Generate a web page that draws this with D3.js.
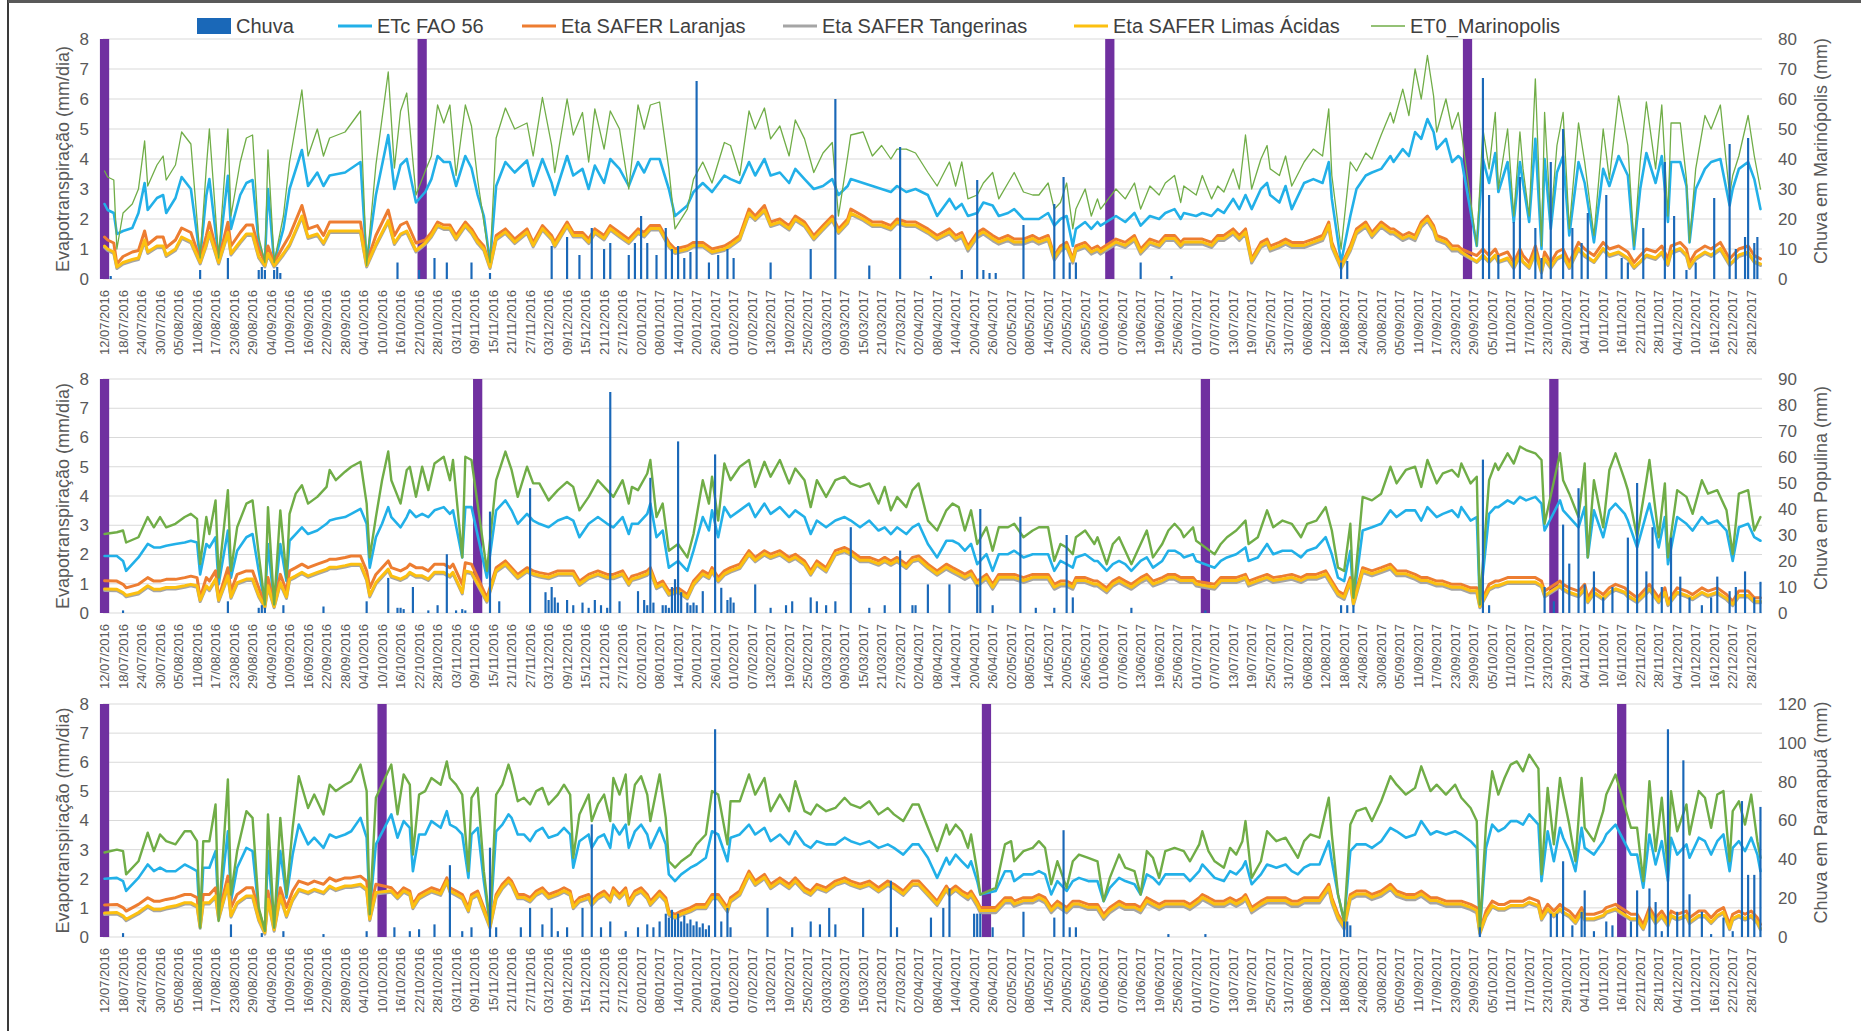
<!DOCTYPE html>
<html>
<head>
<meta charset="utf-8">
<script src="https://cdn.jsdelivr.net/npm/d3@7"></script>
<style>
body { margin: 0; background: #fff; }
svg { display: block; font-family: "Liberation Sans", Arial, sans-serif; }
</style>
</head>
<body>
<svg id="chart" width="1861" height="1031"></svg>
<script>
// ---------- data (day index 0 = 12/07/2016) ----------
var legendNames = ["Chuva", "ETc FAO 56", "Eta SAFER Laranjas", "Eta SAFER Tangerinas", "Eta SAFER Limas Ácidas", "ET0_Marinopolis"];
var leftTitle = "Evapotranspiração (mm/dia)";
var rightTitles = ["Chuva em Marinópolis (mm)", "Chuva em Populina (mm)", "Chuva em Paranapuã (mm)"];
var leftTicks = [0, 1, 2, 3, 4, 5, 6, 7, 8];
var rightTicks1 = [0, 10, 20, 30, 40, 50, 60, 70, 80];
var rightTicks2 = [0, 10, 20, 30, 40, 50, 60, 70, 80, 90];
var rightTicks3 = [0, 20, 40, 60, 80, 100, 120];

// panel 1 - Marinópolis
var p1Marks = [0, 103, 326, 442];
var p1Days = [0,1,3,4,6,9,11,13,14,17,
  19,20,23,25,28,31,33,34,37,40,
  41,44,46,48,50,52,53,55,58,60,
  64,66,69,71,73,78,83,85,88,92,
  94,96,98,101,104,106,108,110,112,114,
  117,119,121,123,125,127,130,133,137,139,
  142,145,146,150,152,155,157,159,162,164,
  167,170,173,175,177,180,183,185,189,191,
  194,197,201,203,206,209,211,214,216,219,
  222,224,227,230,233,236,238,241,242,246,
  249,252,255,257,260,263,267,270,274,276,
  278,280,283,285,288,290,293,295,298,301,
  303,306,308,310,312,314,315,318,320,322,
  323,328,331,334,336,339,342,344,347,349,
  350,354,356,359,361,363,366,368,370,372,
  375,377,378,381,383,385,389,392,395,397,
  398,401,404,406,409,411,414,417,418,421,
  423,425,427,429,431,432,435,437,439,440,
  445,447,449,451,452,455,457,459,460,462,
  464,466,467,469,471,473,475,478,480,483,
  486,488,491,494,496,498,500,503,505,507,
  508,511,513,514,516,519,521,524,527,528,
  530,533,535,537];
var p1ET0 = [3.6,3.4,3.3,1.0,2.2,2.5,3.0,4.6,3.1,3.8,
  4.1,3.3,3.8,4.9,4.5,0.7,3.7,5.0,0.7,5.0,
  2.1,3.9,4.7,4.8,1.4,0.55,4.3,0.55,2.1,3.9,
  6.3,4.1,5.0,4.1,4.7,4.9,5.6,0.45,3.8,6.9,
  3.7,5.6,6.2,2.8,3.6,4.1,5.8,5.2,5.8,3.45,
  5.8,5.1,3.3,1.9,0.55,4.7,5.7,5.0,5.2,4.1,
  6.05,4.45,3.55,6.0,4.8,5.55,3.9,5.67,4.33,5.6,
  5.0,3.0,5.8,5.0,5.8,5.9,3.67,1.67,2.33,3.33,
  3.9,3.2,4.55,4.45,3.45,5.6,5.0,5.7,4.67,5.1,
  4.1,5.3,4.67,3.55,4.2,4.55,2.1,4.1,4.8,4.9,
  4.1,4.45,4.0,4.33,4.33,4.2,3.55,3.1,3.9,3.1,
  3.9,2.67,2.8,3.2,3.55,2.67,3.2,3.55,2.9,2.8,
  2.8,3.2,2.33,2.55,3.2,1.67,2.33,3.0,2.1,2.67,
  2.33,3.0,2.67,3.2,2.33,3.1,2.8,3.2,3.45,2.55,
  3.1,2.8,3.45,2.67,3.1,2.9,3.67,3.0,4.8,3.0,
  4.0,4.45,3.67,3.45,4.1,3.1,3.9,4.33,4.1,5.67,
  3.45,1.0,3.9,3.6,4.2,4.0,4.8,5.55,5.2,6.33,
  5.45,7.0,6.0,7.45,6.1,4.9,6.0,5.0,5.55,4.9,
  1.1,5.0,3.67,5.55,3.0,5.0,2.1,4.9,3.67,2.1,
  6.67,1.1,5.55,1.9,4.45,5.55,1.67,5.2,3.9,1.45,
  5.0,3.33,6.1,4.45,1.1,3.9,5.9,3.67,5.8,2.1,
  5.2,5.2,3.33,1.22,3.67,5.45,5.0,5.8,2.8,3.45,
  4.1,5.45,4.1,3.0];
var p1ETc = [2.5,2.3,2.2,1.5,1.6,1.7,2.2,3.2,2.3,2.7,
  2.8,2.2,2.7,3.4,3.0,0.7,2.78,3.33,0.7,3.44,
  1.67,2.8,3.2,3.3,1.2,0.55,3.0,0.55,1.67,3.0,
  4.3,3.1,3.55,3.1,3.45,3.55,3.9,0.55,2.8,4.8,
  3.0,3.8,4.0,2.55,2.9,3.33,4.1,3.9,3.9,3.1,
  4.1,3.7,2.8,2.1,0.55,3.1,3.9,3.55,3.95,3.1,
  4.0,3.2,2.8,4.1,3.45,3.67,3.0,3.78,3.2,4.0,
  3.67,3.1,3.9,3.55,4.0,4.0,3.0,2.1,2.45,2.9,
  3.2,2.9,3.45,3.33,3.2,3.9,3.45,4.0,3.45,3.55,
  3.2,3.67,3.33,3.0,3.1,3.33,2.8,3.1,3.33,3.2,
  3.1,3.0,2.9,3.1,2.9,3.0,2.8,2.1,2.67,2.33,
  2.5,2.1,2.2,2.55,2.45,2.1,2.2,2.33,2.0,2.0,
  2.0,2.2,1.78,2.0,2.1,1.1,1.67,1.9,1.67,1.9,
  1.78,2.1,1.9,2.2,1.78,2.1,2.0,2.2,2.33,2.0,
  2.2,2.1,2.2,2.1,2.33,2.2,2.67,2.33,2.8,2.33,
  3.0,3.2,2.8,2.55,3.1,2.33,3.2,3.33,3.2,3.9,
  2.67,0.55,2.1,3.0,3.45,3.55,3.67,4.1,3.9,4.33,
  4.1,4.9,4.67,5.33,4.9,4.33,4.67,3.9,4.1,4.0,
  1.1,4.0,3.2,4.2,2.9,3.9,1.9,3.9,3.2,1.9,
  4.67,1.0,4.0,1.67,3.55,4.1,1.45,3.9,3.2,1.22,
  3.67,3.1,4.1,3.45,1.0,3.0,4.2,3.2,4.1,1.9,
  3.9,3.9,3.1,1.22,3.0,3.67,3.9,4.0,2.45,3.0,
  3.67,3.9,3.33,2.33];
var p1Lar = [1.4,1.3,1.2,0.5,0.75,0.9,0.95,1.6,1.15,1.4,
  1.4,1.05,1.3,1.7,1.55,0.65,1.44,1.89,0.65,1.89,
  1.1,1.55,1.8,1.8,1.0,0.55,1.1,0.55,1.1,1.45,
  2.45,1.67,1.78,1.45,1.9,1.9,1.9,0.55,1.45,2.3,
  1.45,1.8,1.9,1.2,1.3,1.55,1.9,1.8,1.8,1.45,
  1.9,1.67,1.33,1.1,0.45,1.45,1.67,1.33,1.67,1.22,
  1.78,1.45,1.22,1.9,1.55,1.55,1.33,1.67,1.45,1.78,
  1.55,1.33,1.67,1.55,1.78,1.78,1.22,1.0,1.1,1.22,
  1.22,1.0,1.1,1.22,1.45,2.33,2.1,2.45,1.9,2.0,
  1.78,2.1,1.9,1.45,1.78,2.1,1.67,2.0,2.33,2.1,
  1.9,1.9,1.78,2.0,1.9,1.9,1.67,1.45,1.67,1.45,
  1.55,1.1,1.55,1.67,1.45,1.33,1.45,1.33,1.33,1.45,
  1.33,1.45,0.78,1.1,1.22,0.67,1.1,1.22,1.0,1.1,
  1.0,1.33,1.22,1.45,1.0,1.33,1.22,1.45,1.45,1.22,
  1.33,1.33,1.33,1.22,1.45,1.45,1.67,1.45,1.67,0.67,
  1.22,1.33,1.1,1.22,1.33,1.22,1.22,1.33,1.45,1.9,
  1.22,0.45,1.1,1.67,1.9,1.55,1.9,1.67,1.67,1.45,
  1.55,1.45,1.9,2.1,1.78,1.45,1.33,1.1,1.1,1.0,
  0.78,1.0,0.78,1.0,0.78,0.9,0.55,1.0,0.78,0.55,
  1.1,0.33,0.9,0.55,0.9,1.0,0.55,1.22,1.0,0.78,
  1.22,1.0,1.1,0.9,0.55,0.78,1.0,0.9,1.1,0.67,
  1.1,1.22,1.0,0.55,0.9,1.1,1.0,1.22,0.67,0.78,
  1.0,1.1,0.78,0.67];
var p1Tan = [1.05,0.95,0.85,0.35,0.5,0.6,0.65,1.25,0.85,1.05,
  1.05,0.75,0.95,1.35,1.2,0.5,1.1,1.5,0.5,1.5,
  0.8,1.2,1.45,1.45,0.7,0.4,0.8,0.4,0.8,1.1,
  2.05,1.35,1.45,1.15,1.55,1.55,1.55,0.4,1.1,1.9,
  1.15,1.45,1.55,0.9,1.15,1.4,1.75,1.65,1.65,1.3,
  1.75,1.52,1.18,0.95,0.35,1.3,1.52,1.18,1.52,1.07,
  1.63,1.3,1.07,1.75,1.4,1.4,1.18,1.52,1.3,1.63,
  1.4,1.18,1.52,1.4,1.63,1.63,1.07,0.85,0.95,1.07,
  1.07,0.85,0.95,1.07,1.3,2.15,1.95,2.25,1.75,1.85,
  1.63,1.95,1.75,1.3,1.63,1.95,1.52,1.85,2.15,1.95,
  1.75,1.75,1.63,1.85,1.75,1.75,1.52,1.3,1.5,1.28,
  1.38,0.93,1.38,1.5,1.28,1.16,1.28,1.16,1.16,1.28,
  1.16,1.28,0.63,0.93,1.05,0.53,0.93,1.05,0.83,0.93,
  0.83,1.16,1.05,1.28,0.83,1.16,1.05,1.28,1.28,1.05,
  1.16,1.16,1.16,1.05,1.28,1.28,1.5,1.28,1.5,0.53,
  1.05,1.16,0.93,1.05,1.16,1.05,1.05,1.16,1.28,1.73,
  1.05,0.35,0.93,1.5,1.73,1.38,1.73,1.5,1.5,1.28,
  1.38,1.28,1.73,1.93,1.6,1.28,1.16,0.93,0.93,0.85,
  0.55,0.75,0.55,0.75,0.55,0.65,0.35,0.75,0.55,0.35,
  0.85,0.2,0.65,0.35,0.65,0.75,0.35,0.97,0.75,0.55,
  0.97,0.75,0.85,0.65,0.35,0.55,0.75,0.65,0.85,0.45,
  0.85,0.97,0.75,0.35,0.65,0.85,0.75,0.97,0.45,0.55,
  0.75,0.85,0.55,0.45];
var p1Lim = [1.1,1.0,0.9,0.4,0.55,0.65,0.7,1.3,0.9,1.1,
  1.1,0.8,1.0,1.4,1.25,0.55,1.15,1.55,0.55,1.55,
  0.85,1.25,1.5,1.5,0.75,0.45,0.85,0.45,0.85,1.15,
  2.1,1.4,1.5,1.2,1.6,1.6,1.6,0.45,1.15,1.95,
  1.2,1.5,1.6,0.95,1.2,1.45,1.8,1.7,1.7,1.35,
  1.8,1.57,1.23,1.0,0.4,1.35,1.57,1.23,1.57,1.12,
  1.68,1.35,1.12,1.8,1.45,1.45,1.23,1.57,1.35,1.68,
  1.45,1.23,1.57,1.45,1.68,1.68,1.12,0.9,1.0,1.12,
  1.12,0.9,1.0,1.12,1.35,2.2,2.0,2.3,1.8,1.9,
  1.68,2.0,1.8,1.35,1.68,2.0,1.57,1.9,2.2,2.0,
  1.8,1.8,1.68,1.9,1.8,1.8,1.57,1.35,1.57,1.35,
  1.45,1.0,1.45,1.57,1.35,1.23,1.35,1.23,1.23,1.35,
  1.23,1.35,0.7,1.0,1.12,0.6,1.0,1.12,0.9,1.0,
  0.9,1.23,1.12,1.35,0.9,1.23,1.12,1.35,1.35,1.12,
  1.23,1.23,1.23,1.12,1.35,1.35,1.57,1.35,1.57,0.6,
  1.12,1.23,1.0,1.12,1.23,1.12,1.12,1.23,1.35,1.8,
  1.12,0.4,1.0,1.57,1.8,1.45,1.8,1.57,1.57,1.35,
  1.45,1.35,1.8,2.0,1.68,1.35,1.23,1.0,1.0,0.9,
  0.58,0.8,0.58,0.8,0.58,0.7,0.4,0.8,0.58,0.4,
  0.9,0.25,0.7,0.4,0.7,0.8,0.4,1.02,0.8,0.58,
  1.02,0.8,0.9,0.7,0.4,0.58,0.8,0.7,0.9,0.5,
  0.9,1.02,0.8,0.4,0.7,0.9,0.8,1.02,0.5,0.58,
  0.8,0.9,0.58,0.5];
var p1RainDays = [2,31,40,50,51,52,55,56,57,95,
  102,107,111,119,125,145,150,154,158,162,
  164,170,172,174,176,179,182,184,186,188,
  190,192,196,199,202,204,216,229,237,248,
  258,268,278,283,285,287,289,298,308,311,
  313,315,336,346,401,403,447,449,452,457,
  459,464,466,469,473,476,479,481,487,492,
  494,499,506,509,513,516,522,527,529,532,
  533,535,536];
var p1Rain = [1,3,7,3,4,3,3,4,2,5.5,
  3,7,5.5,5.5,2,11,14,8,17,10,
  12,8,12,21,12,8,17,10,11,7,
  9,66,5.5,8,10,7,5.5,10,60,4.5,
  44,1,3,33,3,2,2,18,25,34,
  5.5,5.5,5.5,1,5.5,6,67,28,8,19,
  34,17,7,39,50,17,12,22,28,7,
  5.5,17,39,21,3,5.5,27,45,10,14,
  47,12,14];

// panel 2 - Populina
var p2Marks = [0, 121, 357, 470];
var p2Days = [0,4,6,7,11,14,16,18,20,23,
  26,28,30,31,33,34,36,37,40,41,
  43,46,48,50,52,53,55,57,59,60,
  62,64,66,69,72,73,75,78,80,83,
  85,86,88,90,92,93,96,98,99,101,
  103,105,107,110,112,113,116,117,119,124,
  127,130,132,134,137,139,141,144,147,150,
  152,154,157,160,163,165,168,170,171,173,
  176,177,179,181,183,186,189,191,194,196,
  197,199,201,203,206,209,211,214,216,219,
  222,224,227,229,231,234,237,240,242,245,
  248,251,253,255,257,260,262,264,267,270,
  273,275,277,279,281,283,286,288,290,293,
  295,298,301,303,306,308,310,312,314,315,
  318,321,322,325,327,329,331,333,336,338,
  340,343,345,347,349,350,353,354,360,362,
  364,367,370,371,374,377,379,382,385,388,
  390,393,396,398,400,402,404,405,408,411,
  414,417,419,422,425,427,429,432,434,437,
  439,440,443,445,446,449,451,452,455,457,
  459,461,464,466,467,472,473,475,478,480,
  481,483,486,488,490,493,494,497,500,501,
  504,506,507,510,513,515,518,520,523,526,
  528,530,533,535,537];
var p2ET0 = [2.7,2.76,2.82,2.41,2.59,3.28,2.93,3.28,2.93,3.05,
  3.28,3.39,3.22,1.67,3.28,2.7,3.85,1.21,4.2,1.44,
  2.93,3.74,3.85,2.01,0.29,3.62,0.29,3.51,1.21,3.39,
  4.08,4.37,3.74,3.97,4.31,4.89,4.54,4.83,5.0,5.17,
  3.74,1.9,3.28,4.54,5.52,4.54,3.74,4.89,5.0,3.97,
  5.0,4.2,5.11,5.34,4.54,5.23,1.9,5.34,5.23,1.44,
  4.54,5.52,4.89,3.97,5.0,4.43,4.43,3.85,4.2,4.48,
  4.31,3.51,3.97,4.54,4.2,3.97,4.54,3.74,4.31,4.2,
  4.77,5.23,3.28,3.74,2.13,2.36,1.9,2.7,4.54,3.74,
  4.66,3.16,5.11,4.54,5.0,5.23,4.31,5.17,4.66,5.23,
  4.43,4.94,4.54,3.62,4.54,3.97,4.54,4.66,4.43,4.31,
  4.43,3.74,4.31,3.51,3.97,3.62,4.2,4.43,3.16,2.82,
  3.51,3.74,3.62,2.82,3.51,2.36,2.93,2.13,2.93,2.93,
  3.05,2.59,2.82,2.93,2.93,1.78,2.36,2.24,2.01,2.59,
  2.82,2.36,2.59,1.67,2.36,2.59,2.13,1.67,2.36,2.82,
  1.9,2.36,2.82,3.05,2.82,2.59,2.93,2.47,2.01,2.36,
  2.59,2.82,3.16,2.36,2.59,3.51,2.93,3.16,3.05,2.59,
  3.05,3.16,3.62,2.82,1.55,1.44,3.05,0.52,3.97,3.85,
  4.08,5.0,4.43,4.89,5.0,4.31,5.23,4.43,4.77,4.89,
  4.66,5.11,4.43,4.66,0.29,4.54,5.11,4.89,5.46,5.11,
  5.69,5.57,5.46,5.23,3.05,5.46,4.54,4.08,3.28,5.11,
  1.9,4.54,2.93,4.89,5.46,4.54,4.2,2.59,4.54,5.23,
  2.59,4.43,1.9,4.2,3.97,3.39,4.54,4.08,4.2,3.51,
  2.01,4.08,4.2,2.82,3.28];
var p2ETc = [1.95,1.95,1.78,1.44,1.9,2.36,2.24,2.24,2.3,2.36,
  2.41,2.47,2.41,1.32,2.36,2.24,2.59,0.98,2.82,1.21,
  2.13,2.59,2.7,1.44,0.29,2.36,0.29,2.36,1.09,2.47,
  2.7,2.93,2.7,2.82,3.05,3.16,3.22,3.28,3.39,3.56,
  3.05,1.55,2.59,3.05,3.62,3.28,2.93,3.28,3.51,3.28,
  3.39,3.28,3.51,3.62,3.39,3.51,1.9,3.62,3.62,1.21,
  3.51,3.85,3.51,3.05,3.39,3.16,3.05,2.93,3.16,3.28,
  3.16,2.59,3.05,3.28,3.05,2.93,3.28,2.7,3.05,3.05,
  3.39,3.74,2.59,2.82,1.55,1.78,1.44,2.13,3.28,2.82,
  3.51,2.59,3.62,3.28,3.51,3.74,3.28,3.74,3.39,3.62,
  3.28,3.51,3.28,2.7,3.16,2.93,3.16,3.28,3.16,2.93,
  3.16,2.82,2.93,2.7,2.93,2.7,2.93,3.05,2.36,1.9,
  2.47,2.47,2.36,2.13,2.36,1.67,2.01,1.44,2.01,2.01,
  2.13,1.9,2.01,2.01,2.01,1.44,1.78,1.67,1.55,1.9,
  2.01,1.78,1.78,1.44,1.67,1.78,1.67,1.44,1.78,1.9,
  1.55,1.78,2.13,2.13,2.01,1.9,2.01,1.78,1.55,1.78,
  1.9,2.01,2.24,1.78,1.9,2.36,2.01,2.13,2.13,1.9,
  2.13,2.24,2.59,2.01,1.21,1.09,2.13,0.4,2.82,2.93,
  3.05,3.51,3.28,3.51,3.51,3.16,3.62,3.28,3.39,3.51,
  3.28,3.62,3.16,3.28,0.29,3.39,3.62,3.62,3.85,3.74,
  3.97,3.85,3.97,3.74,2.82,3.85,3.51,3.28,2.93,3.62,
  1.9,3.51,2.59,3.51,3.74,3.39,3.16,2.24,3.39,3.74,
  2.24,3.28,1.67,3.28,3.05,2.82,3.28,3.05,3.16,2.82,
  1.78,2.93,3.05,2.59,2.47];
var p2Lar = [1.1,1.09,0.98,0.86,0.98,1.21,1.09,1.09,1.15,1.15,
  1.21,1.26,1.21,0.52,1.21,1.09,1.44,0.52,1.55,0.75,
  1.32,1.44,1.44,0.86,0.29,1.21,0.29,1.32,0.75,1.44,
  1.55,1.67,1.55,1.67,1.78,1.84,1.84,1.9,1.95,1.95,
  1.44,0.86,1.32,1.55,1.78,1.55,1.44,1.55,1.67,1.55,
  1.55,1.44,1.67,1.67,1.55,1.67,0.98,1.72,1.67,0.52,
  1.55,1.78,1.55,1.32,1.55,1.44,1.38,1.32,1.44,1.44,
  1.44,1.09,1.32,1.44,1.32,1.32,1.44,1.09,1.26,1.32,
  1.44,1.55,0.98,1.09,0.75,0.86,0.63,1.09,1.44,1.32,
  1.55,1.21,1.44,1.55,1.67,2.13,1.9,2.13,2.01,2.13,
  1.9,2.01,1.78,1.44,1.78,1.55,2.13,2.24,2.13,1.9,
  1.9,1.78,1.9,1.78,1.9,1.67,1.9,1.95,1.67,1.44,
  1.67,1.55,1.44,1.32,1.44,1.09,1.32,0.98,1.32,1.32,
  1.32,1.21,1.32,1.32,1.32,0.98,1.09,1.09,0.98,1.21,
  1.21,1.09,1.09,0.86,1.09,1.21,1.09,0.98,1.21,1.32,
  1.09,1.21,1.32,1.32,1.21,1.21,1.21,1.09,0.98,1.21,
  1.21,1.21,1.32,1.09,1.21,1.32,1.21,1.26,1.32,1.21,
  1.32,1.32,1.44,1.09,0.75,0.63,1.21,0.4,1.55,1.44,
  1.55,1.67,1.44,1.44,1.32,1.21,1.21,1.09,1.09,0.98,
  0.98,0.98,0.86,0.86,0.29,0.98,1.09,1.09,1.21,1.21,
  1.21,1.21,1.21,1.09,0.75,1.09,0.98,0.86,0.75,0.98,
  0.52,0.86,0.63,0.86,0.98,0.86,0.75,0.52,0.86,0.98,
  0.52,0.86,0.4,0.86,0.75,0.63,0.86,0.75,0.86,0.63,
  0.4,0.75,0.75,0.52,0.52];
var p2Tan = [0.77,0.76,0.65,0.55,0.65,0.88,0.76,0.76,0.82,0.82,
  0.88,0.93,0.88,0.39,0.88,0.76,1.11,0.39,1.22,0.5,
  0.99,1.11,1.11,0.55,0.18,0.88,0.18,0.99,0.5,1.11,
  1.22,1.34,1.22,1.34,1.45,1.51,1.51,1.57,1.62,1.62,
  1.11,0.55,0.99,1.22,1.45,1.22,1.11,1.22,1.34,1.22,
  1.22,1.11,1.34,1.34,1.22,1.34,0.65,1.39,1.34,0.37,
  1.4,1.63,1.4,1.17,1.4,1.29,1.23,1.17,1.29,1.29,
  1.29,0.94,1.17,1.29,1.17,1.17,1.29,0.94,1.11,1.17,
  1.29,1.4,0.83,0.94,0.6,0.71,0.48,0.94,1.29,1.17,
  1.4,1.06,1.29,1.4,1.52,1.98,1.75,1.98,1.86,1.98,
  1.75,1.86,1.63,1.29,1.63,1.4,1.98,2.09,1.98,1.75,
  1.75,1.63,1.75,1.63,1.75,1.52,1.75,1.8,1.52,1.29,
  1.5,1.38,1.27,1.15,1.27,0.92,1.15,0.81,1.15,1.15,
  1.15,1.04,1.15,1.15,1.15,0.81,0.92,0.92,0.81,1.04,
  1.04,0.92,0.92,0.69,0.92,1.04,0.92,0.81,1.04,1.15,
  0.92,1.04,1.15,1.15,1.04,1.04,1.04,0.92,0.81,1.04,
  1.04,1.04,1.15,0.92,1.04,1.15,1.04,1.09,1.15,1.04,
  1.15,1.15,1.27,0.92,0.58,0.46,1.04,0.26,1.38,1.27,
  1.38,1.5,1.27,1.27,1.15,1.04,1.04,0.92,0.92,0.81,
  0.81,0.81,0.69,0.69,0.18,0.78,0.89,0.89,1.01,1.01,
  1.01,1.01,1.01,0.89,0.55,0.89,0.78,0.66,0.55,0.78,
  0.35,0.66,0.45,0.66,0.78,0.66,0.55,0.35,0.66,0.78,
  0.35,0.66,0.25,0.66,0.55,0.45,0.66,0.55,0.66,0.45,
  0.25,0.55,0.55,0.35,0.35];
var p2Lim = [0.82,0.81,0.7,0.6,0.7,0.93,0.81,0.81,0.87,0.87,
  0.93,0.98,0.93,0.44,0.93,0.81,1.16,0.44,1.27,0.55,
  1.04,1.16,1.16,0.6,0.22,0.93,0.22,1.04,0.55,1.16,
  1.27,1.39,1.27,1.39,1.5,1.56,1.56,1.62,1.67,1.67,
  1.16,0.6,1.04,1.27,1.5,1.27,1.16,1.27,1.39,1.27,
  1.27,1.16,1.39,1.39,1.27,1.39,0.7,1.44,1.39,0.42,
  1.45,1.68,1.45,1.22,1.45,1.34,1.28,1.22,1.34,1.34,
  1.34,0.99,1.22,1.34,1.22,1.22,1.34,0.99,1.16,1.22,
  1.34,1.45,0.88,0.99,0.65,0.76,0.53,0.99,1.34,1.22,
  1.45,1.11,1.34,1.45,1.57,2.03,1.8,2.03,1.91,2.03,
  1.8,1.91,1.68,1.34,1.68,1.45,2.03,2.14,2.03,1.8,
  1.8,1.68,1.8,1.68,1.8,1.57,1.8,1.85,1.57,1.34,
  1.57,1.45,1.34,1.22,1.34,0.99,1.22,0.88,1.22,1.22,
  1.22,1.11,1.22,1.22,1.22,0.88,0.99,0.99,0.88,1.11,
  1.11,0.99,0.99,0.76,0.99,1.11,0.99,0.88,1.11,1.22,
  0.99,1.11,1.22,1.22,1.11,1.11,1.11,0.99,0.88,1.11,
  1.11,1.11,1.22,0.99,1.11,1.22,1.11,1.16,1.22,1.11,
  1.22,1.22,1.34,0.99,0.65,0.53,1.11,0.32,1.45,1.34,
  1.45,1.57,1.34,1.34,1.22,1.11,1.11,0.99,0.99,0.88,
  0.88,0.88,0.76,0.76,0.22,0.83,0.94,0.94,1.06,1.06,
  1.06,1.06,1.06,0.94,0.6,0.94,0.83,0.71,0.6,0.83,
  0.4,0.71,0.5,0.71,0.83,0.71,0.6,0.4,0.71,0.83,
  0.4,0.71,0.3,0.71,0.6,0.5,0.71,0.6,0.71,0.5,
  0.3,0.6,0.6,0.4,0.4];
var p2RainDays = [6,40,50,51,52,58,71,85,92,95,
  96,97,100,105,108,111,114,116,117,125,
  128,138,143,144,145,146,147,150,152,155,
  157,159,161,163,164,167,173,175,176,177,
  178,181,182,183,184,185,186,187,189,190,
  191,192,194,198,200,202,203,204,211,216,
  221,223,229,231,234,237,242,248,253,258,
  262,263,267,274,283,284,288,297,302,308,
  312,314,333,357,401,403,405,447,449,467,
  470,473,475,478,480,483,486,489,494,497,
  500,502,505,508,511,514,518,521,523,527,
  529,532,535,537];
var p2Rain = [1,4.5,2,3,2,3,2.5,4.5,13.5,2,
  2,1.5,10,1,3,22.6,1,1.5,1,39,
  4.5,48,8,5,10,6,4,5,3,4,
  2,5,3,2,85,4.5,8.4,5,3,52,
  4,3,3,2,10,13,66,8,4,3,
  4,3,8.4,61,9.7,5,6,4,11,2,
  3,4.5,6,4.5,3,4.5,33,2,3,24,
  3,3,11,11,11,40,3,37,2,2,
  30,6,2,1,3,3,3,59,3,10,
  4.5,34,19,48,11,16,6,10,29,50,
  16,33,10,29,14,6,3,6,14,8.4,
  10,16,6,12];

// panel 3 - Paranapuã
var p3Marks = [0, 90, 286, 492];
var p3Days = [0,4,6,7,11,14,16,18,20,23,
  26,28,30,31,32,34,36,37,40,41,
  43,46,48,50,52,53,55,57,59,61,
  63,66,68,71,73,75,78,80,83,85,
  86,88,93,95,97,99,100,102,104,106,
  109,111,112,114,116,118,119,121,123,125,
  127,129,131,132,134,136,138,140,142,144,
  147,149,151,152,154,157,158,160,162,164,
  165,167,169,170,172,174,176,177,180,182,
  183,185,187,190,192,195,197,199,202,203,
  206,209,211,214,216,219,222,224,227,229,
  231,234,237,240,242,245,248,251,254,256,
  259,262,264,267,270,273,274,276,278,280,
  281,283,284,289,292,294,295,298,301,303,
  305,307,309,312,314,316,319,322,324,326,
  329,331,334,336,338,340,342,344,347,350,
  352,355,356,358,360,363,365,367,369,370,
  372,375,377,380,383,385,387,389,391,394,
  397,398,400,402,404,406,409,411,414,417,
  419,422,425,427,430,432,435,438,440,443,
  445,446,448,450,452,454,456,458,460,462,
  465,466,468,470,472,473,475,477,479,480,
  483,486,487,490,495,497,499,501,503,505,
  507,508,510,513,514,517,519,521,523,525,
  527,528,530,532,534,536,537];
var p3ET0 = [2.9,3.0,2.95,2.15,2.6,3.58,2.95,3.52,3.29,3.18,
  3.63,3.63,3.29,0.32,3.29,3.29,4.55,0.55,5.41,1.46,
  2.95,4.32,4.09,1.01,0.21,4.21,0.32,4.09,1.46,3.75,
  5.52,4.43,4.89,4.21,5.23,5.01,5.23,5.35,5.92,5.01,
  0.78,4.78,5.92,4.21,5.58,5.23,2.83,4.89,5.01,5.46,
  5.23,6.03,5.46,5.23,4.89,2.26,4.78,5.12,2.26,0.43,
  4.89,5.23,5.92,5.58,4.66,4.78,4.55,5.01,5.12,4.55,
  4.89,5.23,4.89,2.72,4.21,4.89,3.98,4.55,4.89,3.98,
  5.46,4.89,5.58,3.86,5.23,5.52,4.89,3.98,5.58,4.09,
  2.6,2.38,2.6,2.83,3.18,3.52,5.01,4.89,3.18,4.66,
  4.66,5.58,4.89,5.46,4.32,4.89,4.32,5.35,4.32,4.21,
  4.55,4.32,4.43,4.78,4.55,4.43,4.66,4.21,4.43,4.21,
  3.98,4.55,4.55,3.75,2.95,3.86,3.52,3.86,3.63,3.06,
  3.52,2.26,1.46,1.69,3.18,3.29,2.6,2.95,3.06,3.29,
  3.06,1.81,2.6,1.69,2.6,2.83,2.72,2.6,1.23,2.03,
  2.83,2.38,2.26,1.46,2.95,2.72,2.03,2.95,3.06,2.95,
  2.6,3.18,3.63,2.95,2.6,2.38,3.06,2.83,3.29,3.98,
  2.03,2.6,3.63,3.29,3.41,3.06,2.72,3.29,3.52,3.41,
  4.78,3.52,1.46,0.55,3.86,4.32,4.43,3.98,4.66,5.52,
  5.23,4.89,5.12,5.86,5.01,5.23,4.89,5.23,4.78,4.43,
  3.98,0.21,3.86,5.69,4.89,5.46,5.92,6.03,5.69,6.26,
  5.78,2.15,5.12,3.18,5.46,4.89,3.86,2.6,5.46,3.75,
  3.29,4.32,4.89,5.58,3.75,3.75,1.92,5.35,2.95,4.78,
  2.26,5.01,3.63,4.55,3.52,5.01,4.78,3.75,4.89,5.01,
  2.6,4.32,4.66,3.86,4.89,3.29,2.72];
var p3ETc = [2.0,2.03,1.92,1.58,2.03,2.49,2.26,2.38,2.26,2.26,
  2.49,2.38,2.26,0.43,2.38,2.38,2.95,0.78,3.63,1.23,
  2.38,3.06,2.95,0.89,0.21,2.95,0.32,2.95,1.35,2.83,
  3.86,3.18,3.41,3.06,3.52,3.41,3.52,3.63,4.09,3.41,
  0.89,3.18,4.21,3.41,3.98,3.75,2.26,3.52,3.52,3.98,
  3.75,4.32,3.86,3.75,3.52,2.03,3.52,3.75,1.92,0.43,
  3.63,3.86,4.21,4.09,3.52,3.52,3.29,3.63,3.75,3.41,
  3.52,3.75,3.52,2.38,3.29,3.52,3.06,3.41,3.52,3.06,
  3.86,3.52,3.86,3.06,3.63,3.86,3.52,3.06,3.75,3.18,
  2.15,1.92,2.15,2.38,2.49,2.72,3.63,3.52,2.6,3.41,
  3.52,3.86,3.52,3.75,3.29,3.52,3.18,3.63,3.18,3.06,
  3.29,3.18,3.18,3.41,3.29,3.18,3.29,3.06,3.18,3.06,
  2.83,3.18,3.18,2.72,2.03,2.72,2.49,2.83,2.6,2.38,
  2.6,1.92,1.46,1.58,2.26,2.26,1.92,2.15,2.15,2.26,
  2.15,1.46,1.92,1.58,1.92,2.03,1.92,1.92,1.23,1.69,
  2.03,1.92,1.81,1.46,2.15,2.03,1.81,2.15,2.15,2.15,
  1.92,2.26,2.49,2.26,2.03,1.92,2.26,2.15,2.38,2.6,
  1.81,2.15,2.49,2.38,2.49,2.26,2.15,2.38,2.49,2.49,
  3.29,2.6,1.46,0.55,2.95,3.18,3.18,3.06,3.29,3.75,
  3.63,3.41,3.52,3.98,3.52,3.63,3.52,3.63,3.52,3.29,
  3.06,0.21,3.06,3.86,3.63,3.75,3.98,3.98,3.86,4.21,
  3.86,1.92,3.63,2.6,3.75,3.41,2.95,2.26,3.75,3.06,
  2.83,3.29,3.52,3.86,2.83,2.83,1.69,3.52,2.49,3.29,
  1.92,3.41,2.83,3.18,2.72,3.41,3.29,2.83,3.29,3.52,
  2.26,3.06,3.29,2.95,3.41,2.83,2.26];
var p3Lar = [1.1,1.12,1.01,0.89,1.12,1.35,1.23,1.23,1.29,1.35,
  1.46,1.46,1.35,0.43,1.46,1.46,1.69,0.78,2.09,1.01,
  1.46,1.69,1.69,0.89,0.21,1.58,0.32,1.69,1.01,1.58,
  1.92,1.81,1.92,1.81,2.03,1.92,2.03,2.03,2.09,1.92,
  0.89,1.81,1.69,1.46,1.69,1.58,1.12,1.46,1.58,1.69,
  1.58,2.03,1.69,1.58,1.46,1.01,1.46,1.58,1.01,0.43,
  1.46,1.81,2.03,1.92,1.46,1.46,1.35,1.58,1.69,1.46,
  1.58,1.69,1.58,1.12,1.35,1.46,1.23,1.46,1.58,1.35,
  1.69,1.46,1.69,1.23,1.58,1.69,1.46,1.23,1.58,1.35,
  0.89,0.78,0.89,1.01,1.12,1.12,1.46,1.46,1.01,1.35,
  1.58,2.26,1.92,2.15,1.81,2.03,1.81,2.03,1.69,1.58,
  1.81,1.69,1.92,2.03,1.92,1.81,1.92,1.69,1.92,1.81,
  1.58,1.92,1.92,1.58,1.23,1.75,1.58,1.75,1.58,1.46,
  1.58,1.23,1.01,1.01,1.35,1.35,1.23,1.35,1.35,1.46,
  1.35,1.01,1.23,1.01,1.23,1.23,1.12,1.12,0.78,1.01,
  1.23,1.12,1.12,1.01,1.35,1.23,1.12,1.23,1.23,1.23,
  1.12,1.35,1.46,1.35,1.23,1.23,1.35,1.23,1.35,1.46,
  1.01,1.23,1.35,1.35,1.35,1.23,1.23,1.35,1.35,1.35,
  1.81,1.35,0.78,0.43,1.46,1.58,1.58,1.46,1.58,1.81,
  1.58,1.46,1.46,1.58,1.35,1.35,1.23,1.23,1.23,1.12,
  1.01,0.21,0.89,1.23,1.12,1.12,1.23,1.23,1.23,1.35,
  1.23,0.78,1.12,0.89,1.12,1.01,0.89,0.66,1.01,0.78,
  0.78,0.89,1.01,1.12,0.78,0.78,0.43,1.01,0.66,0.89,
  0.55,0.89,0.78,0.89,0.66,0.89,0.89,0.66,0.89,1.01,
  0.43,0.78,0.89,0.78,0.89,0.66,0.43];
var p3Tan = [0.77,0.79,0.68,0.56,0.79,1.02,0.9,0.9,0.96,1.02,
  1.13,1.13,1.02,0.3,1.13,1.13,1.36,0.6,1.76,0.68,
  1.13,1.36,1.36,0.56,0.1,1.25,0.2,1.36,0.68,1.25,
  1.59,1.48,1.59,1.48,1.7,1.59,1.7,1.7,1.76,1.59,
  0.56,1.48,1.54,1.31,1.54,1.43,0.97,1.31,1.43,1.54,
  1.43,1.88,1.54,1.43,1.31,0.86,1.31,1.43,0.86,0.3,
  1.31,1.66,1.88,1.77,1.31,1.31,1.2,1.43,1.54,1.31,
  1.43,1.54,1.43,0.97,1.2,1.31,1.08,1.31,1.43,1.2,
  1.54,1.31,1.54,1.08,1.43,1.54,1.31,1.08,1.43,1.2,
  0.74,0.63,0.74,0.86,0.97,0.97,1.31,1.31,0.86,1.2,
  1.43,2.11,1.77,2.0,1.66,1.88,1.66,1.88,1.54,1.43,
  1.66,1.54,1.77,1.88,1.77,1.66,1.77,1.54,1.77,1.66,
  1.43,1.77,1.77,1.43,1.08,1.6,1.43,1.6,1.43,1.28,
  1.4,1.05,0.83,0.83,1.17,1.17,1.05,1.17,1.17,1.28,
  1.17,0.83,1.05,0.83,1.05,1.05,0.94,0.94,0.6,0.83,
  1.05,0.94,0.94,0.83,1.17,1.05,0.94,1.05,1.05,1.05,
  0.94,1.17,1.28,1.17,1.05,1.05,1.17,1.05,1.17,1.28,
  0.83,1.05,1.17,1.17,1.17,1.05,1.05,1.17,1.17,1.17,
  1.63,1.17,0.6,0.27,1.28,1.4,1.4,1.28,1.4,1.63,
  1.4,1.28,1.28,1.4,1.17,1.17,1.05,1.05,1.05,0.94,
  0.83,0.1,0.69,1.03,0.92,0.92,1.03,1.03,1.03,1.15,
  1.03,0.58,0.92,0.69,0.92,0.81,0.69,0.46,0.81,0.58,
  0.58,0.69,0.81,0.92,0.58,0.58,0.25,0.81,0.46,0.69,
  0.37,0.69,0.58,0.69,0.46,0.69,0.69,0.46,0.69,0.81,
  0.25,0.58,0.69,0.58,0.69,0.46,0.25];
var p3Lim = [0.82,0.84,0.73,0.61,0.84,1.07,0.95,0.95,1.01,1.07,
  1.18,1.18,1.07,0.35,1.18,1.18,1.41,0.65,1.81,0.73,
  1.18,1.41,1.41,0.61,0.15,1.3,0.25,1.41,0.73,1.3,
  1.64,1.53,1.64,1.53,1.75,1.64,1.75,1.75,1.81,1.64,
  0.61,1.53,1.59,1.36,1.59,1.48,1.02,1.36,1.48,1.59,
  1.48,1.93,1.59,1.48,1.36,0.91,1.36,1.48,0.91,0.35,
  1.36,1.71,1.93,1.82,1.36,1.36,1.25,1.48,1.59,1.36,
  1.48,1.59,1.48,1.02,1.25,1.36,1.13,1.36,1.48,1.25,
  1.59,1.36,1.59,1.13,1.48,1.59,1.36,1.13,1.48,1.25,
  0.79,0.68,0.79,0.91,1.02,1.02,1.36,1.36,0.91,1.25,
  1.48,2.16,1.82,2.05,1.71,1.93,1.71,1.93,1.59,1.48,
  1.71,1.59,1.82,1.93,1.82,1.71,1.82,1.59,1.82,1.71,
  1.48,1.82,1.82,1.48,1.13,1.65,1.48,1.65,1.48,1.36,
  1.48,1.13,0.91,0.91,1.25,1.25,1.13,1.25,1.25,1.36,
  1.25,0.91,1.13,0.91,1.13,1.13,1.02,1.02,0.68,0.91,
  1.13,1.02,1.02,0.91,1.25,1.13,1.02,1.13,1.13,1.13,
  1.02,1.25,1.36,1.25,1.13,1.13,1.25,1.13,1.25,1.36,
  0.91,1.13,1.25,1.25,1.25,1.13,1.13,1.25,1.25,1.25,
  1.71,1.25,0.68,0.35,1.36,1.48,1.48,1.36,1.48,1.71,
  1.48,1.36,1.36,1.48,1.25,1.25,1.13,1.13,1.13,1.02,
  0.91,0.15,0.74,1.08,0.97,0.97,1.08,1.08,1.08,1.2,
  1.08,0.63,0.97,0.74,0.97,0.86,0.74,0.51,0.86,0.63,
  0.63,0.74,0.86,0.97,0.63,0.63,0.3,0.86,0.51,0.74,
  0.42,0.74,0.63,0.74,0.51,0.74,0.74,0.51,0.74,0.86,
  0.3,0.63,0.74,0.63,0.74,0.51,0.3];
var p3RainDays = [6,41,51,58,71,85,94,99,102,107,
  112,116,119,125,127,135,138,142,145,147,
  150,155,158,161,164,169,173,176,178,180,
  182,183,184,185,186,187,188,189,190,191,
  192,193,194,195,196,198,200,202,203,215,
  223,229,232,235,237,246,255,257,268,272,
  274,282,283,284,288,298,308,311,313,315,
  345,357,402,403,404,446,469,471,473,476,
  479,480,483,487,489,495,497,501,503,505,
  507,510,512,514,518,521,525,528,531,533,
  535,537];
var p3Rain = [2,6.5,2,3,1.5,3,5,3,4,6.5,
  37,3,5,46,5,5,15,6.5,15,3,
  5,15,58,5,8,3,5,6.5,5,8,
  12,10,14,9,12,8,11,7,9,6,
  8,5,7,4,6,107,8,15,5,15,
  5,8,6.5,15,6.5,15,29,5,10,15,
  25,12,12,12,5,13,10,55,5,5,
  1.5,1.5,8,8,6,5,12,12,39,6,
  13,24,3,8,6,8,24,25,18,3,
  107,13,91,22,13,1.5,10,3,70,32,
  32,67];

// ---------- drawing ----------
var svg = d3.select("#chart");
var startDate = new Date(2016, 6, 12);
var dayLabels = d3.timeDay.range(startDate, new Date(2018, 0, 1)).map(d3.timeFormat("%d/%m/%Y"));
var tickDays = d3.range(0, dayLabels.length, 6);

var x = d3.scaleBand()
    .domain(d3.range(dayLabels.length))
    .range([103, 1762])
    .padding(0);
var cx = function(d) { return x(d) + x.bandwidth() / 2; };

var textColor = "#595959";
var fontStack = "Liberation Sans, Arial, sans-serif";

// frame
svg.append("line").attr("x1", 8).attr("x2", 8).attr("y1", 0).attr("y2", 1031)
    .attr("stroke", "#3a3a3a").attr("stroke-width", 2);
svg.append("line").attr("x1", 8).attr("x2", 1861).attr("y1", 1.5).attr("y2", 1.5)
    .attr("stroke", "#595959").attr("stroke-width", 3);

var panels = [
    { top: 39, bottom: 279, days: p1Days, et0: p1ET0, etc: p1ETc, lar: p1Lar, tan: p1Tan, lim: p1Lim,
      rainDays: p1RainDays, rain: p1Rain, marks: p1Marks, rTicks: rightTicks1, rTitle: rightTitles[0], et0Width: 1.3 },
    { top: 379, bottom: 613, days: p2Days, et0: p2ET0, etc: p2ETc, lar: p2Lar, tan: p2Tan, lim: p2Lim,
      rainDays: p2RainDays, rain: p2Rain, marks: p2Marks, rTicks: rightTicks2, rTitle: rightTitles[1], et0Width: 2.4 },
    { top: 704, bottom: 937, days: p3Days, et0: p3ET0, etc: p3ETc, lar: p3Lar, tan: p3Tan, lim: p3Lim,
      rainDays: p3RainDays, rain: p3Rain, marks: p3Marks, rTicks: rightTicks3, rTitle: rightTitles[2], et0Width: 2.4 }
];

panels.forEach(function(p) {
    var y = d3.scaleLinear().domain([0, 8]).range([p.bottom, p.top]);
    var yR = d3.scaleLinear().domain([0, d3.max(p.rTicks)]).range([p.bottom, p.top]);
    var g = svg.append("g");

    // gridlines
    g.append("g").selectAll("line")
        .data(leftTicks)
        .enter().append("line")
        .attr("x1", 103).attr("x2", 1762)
        .attr("y1", function(d) { return y(d); })
        .attr("y2", function(d) { return y(d); })
        .attr("stroke", "#d9d9d9")
        .attr("stroke-width", 1);

    // purple markers
    g.append("g").selectAll("rect")
        .data(p.marks)
        .enter().append("rect")
        .attr("x", function(d) { return cx(d) - x.bandwidth() * 1.5; })
        .attr("width", x.bandwidth() * 3)
        .attr("y", y(8))
        .attr("height", y(0) - y(8))
        .attr("fill", "#7030a0");

    // lines
    var series = [
        { v: p.etc, color: "#22b0e8", w: 2.6 },
        { v: p.lar, color: "#ed7d31", w: 3 },
        { v: p.tan, color: "#a5a5a5", w: 3 },
        { v: p.lim, color: "#fcc010", w: 3 },
        { v: p.et0, color: "#70ad47", w: p.et0Width }
    ];
    series.forEach(function(s) {
        var line = d3.line()
            .x(function(d, i) { return cx(p.days[i]); })
            .y(function(d) { return y(d); });
        g.append("path")
            .datum(s.v)
            .attr("fill", "none")
            .attr("stroke", s.color)
            .attr("stroke-width", s.w)
            .attr("stroke-linejoin", "round")
            .attr("stroke-linecap", "round")
            .attr("d", line);
    });

    // rain bars (secondary axis, drawn in front)
    var bw = x.bandwidth() * 0.7;
    g.append("g").selectAll("rect")
        .data(p.rain)
        .enter().append("rect")
        .attr("x", function(d, i) { return cx(p.rainDays[i]) - bw / 2; })
        .attr("width", bw)
        .attr("y", function(d) { return yR(d); })
        .attr("height", function(d) { return yR(0) - yR(d); })
        .attr("fill", "#1a68b8");

    // left axis
    var la = g.append("g")
        .attr("transform", "translate(103,0)")
        .call(d3.axisLeft(y).tickValues(leftTicks).tickSize(0).tickPadding(14));
    la.select(".domain").remove();
    la.selectAll("text").attr("fill", textColor).attr("font-size", 17)
        .attr("font-family", fontStack);

    // right axis
    var ra = g.append("g")
        .attr("transform", "translate(1762,0)")
        .call(d3.axisRight(yR).tickValues(p.rTicks).tickSize(0).tickPadding(16));
    ra.select(".domain").remove();
    ra.selectAll("text").attr("fill", textColor).attr("font-size", 17)
        .attr("font-family", fontStack);

    // x axis
    var xa = g.append("g")
        .attr("transform", "translate(0," + p.bottom + ")")
        .call(d3.axisBottom(x).tickValues(tickDays).tickSize(0)
            .tickFormat(function(d) { return dayLabels[d]; }));
    xa.select(".domain").remove();
    xa.selectAll("text")
        .attr("fill", textColor)
        .attr("font-size", 13)
        .attr("font-family", fontStack)
        .attr("text-anchor", "end")
        .attr("transform", "translate(0,11) rotate(-90)")
        .attr("x", 0)
        .attr("y", 0)
        .attr("dy", "0.35em");

    // axis titles
    var mid = (p.top + p.bottom) / 2;
    g.append("text")
        .attr("transform", "translate(63," + mid + ") rotate(-90)")
        .attr("text-anchor", "middle")
        .attr("dy", "0.35em")
        .attr("font-size", 18)
        .attr("fill", textColor)
        .text(leftTitle);
    g.append("text")
        .attr("transform", "translate(1821," + (mid - 8) + ") rotate(-90)")
        .attr("text-anchor", "middle")
        .attr("dy", "0.35em")
        .attr("font-size", 18)
        .attr("fill", textColor)
        .text(p.rTitle);
});

// legend
var legendX = [197, 338, 522, 783, 1074, 1371];
var legendColors = ["#1a68b8", "#22b0e8", "#ed7d31", "#a5a5a5", "#fcc010", "#70ad47"];
var legend = svg.append("g")
    .attr("font-size", 20)
    .selectAll("g")
    .data(legendNames)
    .enter().append("g")
    .attr("transform", function(d, i) { return "translate(" + legendX[i] + ",26)"; });

legend.each(function(d, i) {
    var el = d3.select(this);
    if (i === 0) {
        el.append("rect").attr("x", 0).attr("y", -8).attr("width", 34).attr("height", 16)
            .attr("fill", legendColors[i]);
    } else {
        el.append("line").attr("x1", 0).attr("x2", 34).attr("y1", 0).attr("y2", 0)
            .attr("stroke", legendColors[i]).attr("stroke-width", i === 5 ? 1.5 : 3);
    }
    el.append("text")
        .attr("x", 39)
        .attr("dy", "0.35em")
        .attr("fill", "#404040")
        .text(d);
});
</script>
</body>
</html>
